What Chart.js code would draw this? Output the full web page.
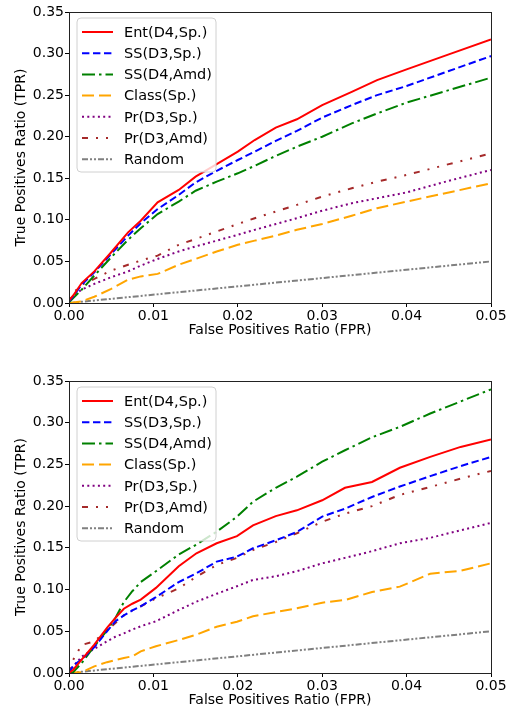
<!DOCTYPE html>
<html>
<head>
<meta charset="utf-8">
<script src="https://cdn.jsdelivr.net/npm/chart.js@4.4.1/dist/chart.umd.min.js"></script>
<style>
  html, body { margin: 0; padding: 0; background: #fff; overflow: hidden; }
  canvas { position: absolute; left: 0; }
  #topChart { top: 0; }
  #bottomChart { top: 354px; }
</style>
</head>
<body>
<canvas id="topChart" width="508" height="354"></canvas>
<canvas id="bottomChart" width="508" height="362"></canvas>
<script>
// ---- data ----
const seriesLabels = ["Ent(D4,Sp.)", "SS(D3,Sp.)", "SS(D4,Amd)", "Class(Sp.)", "Pr(D3,Sp.)", "Pr(D3,Amd)", "Random"];
const xTicks = [0, 0.01, 0.02, 0.03, 0.04, 0.05];
const yTicks = [0, 0.05, 0.10, 0.15, 0.20, 0.25, 0.30, 0.35];

// top panel
const fprTop = [0, 0.0005, 0.0015, 0.003, 0.005, 0.007, 0.0085, 0.0105, 0.013, 0.015, 0.0175, 0.02, 0.022, 0.0245, 0.027, 0.03, 0.0335, 0.0365, 0.04, 0.045, 0.05];
const entTop     = [0.003, 0.009, 0.024, 0.038, 0.061, 0.085, 0.099, 0.121, 0.136, 0.152, 0.167, 0.182, 0.196, 0.211, 0.221, 0.238, 0.254, 0.268, 0.281, 0.299, 0.317];
const ssD3Top    = [0.002, 0.008, 0.022, 0.037, 0.059, 0.081, 0.096, 0.113, 0.130, 0.145, 0.159, 0.172, 0.182, 0.195, 0.207, 0.223, 0.238, 0.250, 0.261, 0.279, 0.297];
const ssD4Top    = [0.001, 0.006, 0.016, 0.033, 0.055, 0.076, 0.090, 0.107, 0.122, 0.135, 0.146, 0.156, 0.165, 0.177, 0.188, 0.200, 0.216, 0.228, 0.241, 0.256, 0.271];
const classTop   = [0, 0.0005, 0.002, 0.0075, 0.017, 0.028, 0.032, 0.035, 0.046, 0.053, 0.062, 0.070, 0.075, 0.081, 0.088, 0.095, 0.105, 0.114, 0.122, 0.133, 0.144];
const prSpTop    = [0, 0.009, 0.016, 0.023, 0.031, 0.038, 0.045, 0.053, 0.062, 0.068, 0.075, 0.082, 0.088, 0.095, 0.102, 0.111, 0.120, 0.126, 0.133, 0.147, 0.160];
const prAmdTop   = [0, 0.012, 0.022, 0.029, 0.039, 0.046, 0.051, 0.057, 0.070, 0.077, 0.086, 0.095, 0.102, 0.110, 0.118, 0.128, 0.138, 0.146, 0.154, 0.167, 0.180];

// bottom panel
const fprBottom = [0, 0.0005, 0.0015, 0.003, 0.0045, 0.0055, 0.0065, 0.0075, 0.0085, 0.0103, 0.013, 0.0151, 0.0175, 0.0199, 0.0218, 0.0245, 0.027, 0.03, 0.0327, 0.0359, 0.0392, 0.0428, 0.0464, 0.05];
const entBottom   = [0, 0.004, 0.016, 0.034, 0.054, 0.066, 0.077, 0.083, 0.088, 0.102, 0.128, 0.1435, 0.1555, 0.164, 0.177, 0.188, 0.195, 0.207, 0.222, 0.229, 0.246, 0.259, 0.271, 0.280];
const ssD3Bottom  = [0, 0.009, 0.016, 0.031, 0.050, 0.062, 0.069, 0.075, 0.080, 0.091, 0.109, 0.1195, 0.1335, 0.1395, 0.1495, 0.159, 0.169, 0.1875, 0.197, 0.211, 0.2235, 0.236, 0.248, 0.259];
const ssD4Bottom  = [0, 0.001, 0.012, 0.032, 0.051, 0.066, 0.085, 0.098, 0.109, 0.122, 0.142, 0.154, 0.1694, 0.1873, 0.2053, 0.222, 0.2353, 0.2533, 0.267, 0.2825, 0.295, 0.311, 0.3255, 0.340];
const classBottom = [0, 0.0005, 0.001, 0.008, 0.013, 0.0155, 0.018, 0.020, 0.026, 0.032, 0.0396, 0.046, 0.0555, 0.0615, 0.068, 0.073, 0.0775, 0.0843, 0.0875, 0.097, 0.1035, 0.119, 0.1225, 0.1315];
const prSpBottom  = [0, 0.008, 0.0196, 0.029, 0.038, 0.0435, 0.0475, 0.052, 0.056, 0.062, 0.0755, 0.0855, 0.095, 0.104, 0.1115, 0.116, 0.122, 0.1315, 0.138, 0.146, 0.1555, 0.162, 0.171, 0.180];
const prAmdBottom = [0, 0.016, 0.0336, 0.038, 0.051, 0.060, 0.069, 0.075, 0.080, 0.0895, 0.1015, 0.1155, 0.1295, 0.138, 0.1474, 0.157, 0.1675, 0.1813, 0.191, 0.200, 0.2134, 0.223, 0.233, 0.2422];

// random baseline (same in both panels)
const fprRandom = [0, 0.05];
const tprRandom = [0, 0.05];

// ---- styles ----
const lineStyles = [
  { color: "#ff0000", dash: [] },
  { color: "#0000ff", dash: [7.4, 3.6] },
  { color: "#008000", dash: [13, 4, 2.5, 4] },
  { color: "#ffa500", dash: [12, 5] },
  { color: "#800080", dash: [2, 3.3] },
  { color: "#a52a2a", dash: [6, 8, 2, 8, 2, 8] },
  { color: "#808080", dash: [6, 2, 2, 2, 2, 2] }
];

const FONT = "'DejaVu Sans', sans-serif";

function points(xs, ys) {
  return xs.map((x, i) => ({ x: x, y: ys[i] }));
}

function buildDatasets(xs, seriesList) {
  const all = seriesList.map(ys => points(xs, ys));
  all.push(points(fprRandom, tprRandom));
  return all.map((data, i) => ({
    label: seriesLabels[i],
    data: data,
    borderColor: lineStyles[i].color,
    borderWidth: 2,
    borderDash: lineStyles[i].dash,
    borderCapStyle: "butt",
    pointRadius: 0,
    fill: false,
    tension: 0,
    order: i
  }));
}

// frame around the plot area (all four spines)
const framePlugin = {
  id: "frame",
  afterDatasetsDraw(chart) {
    const { ctx, chartArea: a } = chart;
    ctx.save();
    ctx.strokeStyle = "#222";
    ctx.lineWidth = 1;
    ctx.strokeRect(Math.round(a.left) + 0.5, Math.round(a.top) + 0.5,
      Math.round(a.right - a.left), Math.round(a.bottom - a.top));
    ctx.restore();
  }
};

// matplotlib-like boxed legend in the upper left
const boxLegend = {
  id: "boxLegend",
  afterDatasetsDraw(chart) {
    const { ctx, chartArea: a } = chart;
    const x = a.left + 8, y = a.top + 6, w = 139, h = 154, r = 4;
    ctx.save();
    ctx.beginPath();
    ctx.moveTo(x + r, y);
    ctx.arcTo(x + w, y, x + w, y + h, r);
    ctx.arcTo(x + w, y + h, x, y + h, r);
    ctx.arcTo(x, y + h, x, y, r);
    ctx.arcTo(x, y, x + w, y, r);
    ctx.closePath();
    ctx.fillStyle = "rgba(255,255,255,0.8)";
    ctx.fill();
    ctx.strokeStyle = "#d0d0d0";
    ctx.lineWidth = 1;
    ctx.stroke();

    ctx.font = "14.5px " + FONT;
    ctx.textBaseline = "middle";
    chart.data.datasets.forEach((ds, i) => {
      const ly = y + 14 + i * 21.2;
      ctx.beginPath();
      ctx.setLineDash(ds.borderDash || []);
      ctx.lineCap = "butt";
      ctx.strokeStyle = ds.borderColor;
      ctx.lineWidth = 2;
      ctx.moveTo(x + 5, ly);
      ctx.lineTo(x + 36, ly);
      ctx.stroke();
      ctx.setLineDash([]);
      ctx.fillStyle = "#000";
      ctx.fillText(ds.label, x + 47, ly + 1);
    });
    ctx.restore();
  }
};

function makeChart(canvasId, datasets, padTop, padBottom) {
  const ctx = document.getElementById(canvasId).getContext("2d");
  return new Chart(ctx, {
    type: "line",
    data: { datasets: datasets },
    options: {
      responsive: false,
      animation: false,
      devicePixelRatio: 1,
      layout: { padding: { top: padTop, right: 17, bottom: padBottom, left: 0 } },
      plugins: {
        legend: { display: false },
        tooltip: { enabled: false }
      },
      scales: {
        x: {
          type: "linear",
          min: 0,
          max: 0.05,
          afterBuildTicks: s => { s.ticks = xTicks.map(v => ({ value: v })); },
          afterFit: s => { s.height = 40; },
          ticks: {
            color: "#000",
            font: { size: 14, family: FONT },
            padding: 1,
            maxRotation: 0,
            autoSkip: false,
            callback: v => v.toFixed(2)
          },
          grid: { drawOnChartArea: false, tickLength: 4, color: "#000" },
          border: { display: false },
          title: {
            display: true,
            text: "False Positives Ratio (FPR)",
            color: "#000",
            font: { size: 14, family: FONT },
            padding: { top: 0, bottom: 4 }
          }
        },
        y: {
          type: "linear",
          min: 0,
          max: 0.35,
          afterBuildTicks: s => { s.ticks = yTicks.map(v => ({ value: v })); },
          afterFit: s => { s.width = 69; },
          ticks: {
            color: "#000",
            font: { size: 14, family: FONT },
            padding: 1,
            autoSkip: false,
            callback: v => v.toFixed(2)
          },
          grid: { drawOnChartArea: false, tickLength: 4, color: "#000" },
          border: { display: false },
          title: {
            display: true,
            text: "True Positives Ratio (TPR)",
            color: "#000",
            font: { size: 14, family: FONT },
            padding: { top: 13, bottom: 0 }
          }
        }
      }
    },
    plugins: [framePlugin, boxLegend]
  });
}

makeChart("topChart",
  buildDatasets(fprTop, [entTop, ssD3Top, ssD4Top, classTop, prSpTop, prAmdTop]),
  12, 354 - 303 - 40);
makeChart("bottomChart",
  buildDatasets(fprBottom, [entBottom, ssD3Bottom, ssD4Bottom, classBottom, prSpBottom, prAmdBottom]),
  27, 362 - 319 - 40);
</script>
</body>
</html>
